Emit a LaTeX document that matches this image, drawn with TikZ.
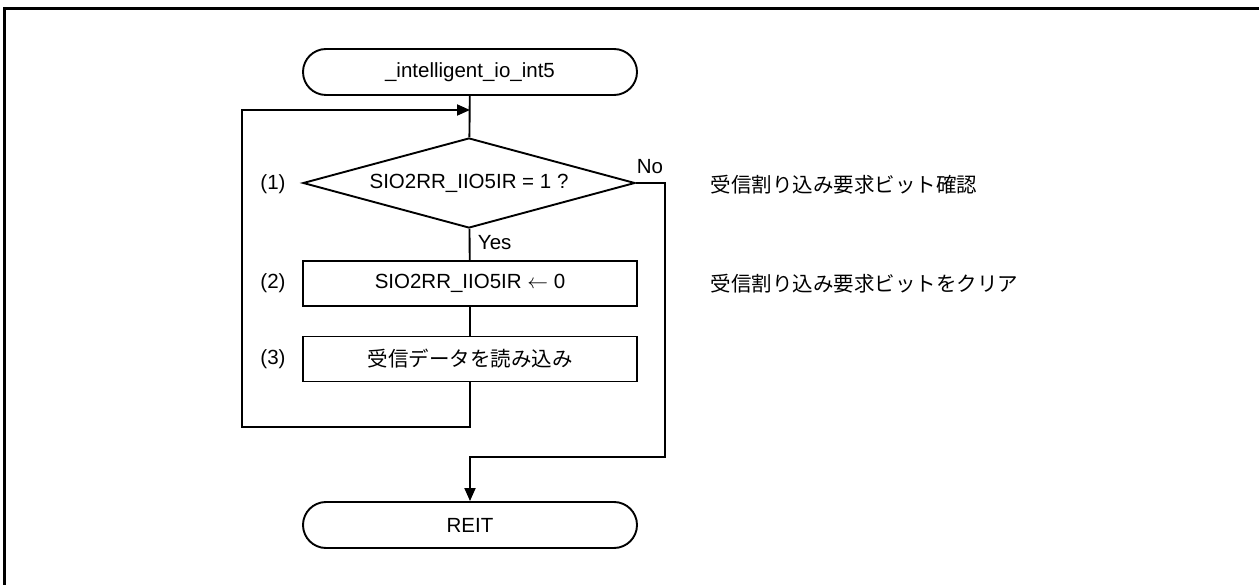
\documentclass[tikz,border=0pt]{standalone}
\usepackage{fontspec}
\setmainfont{Liberation Sans}
\newfontfamily\jp{Noto Sans CJK JP}
\usetikzlibrary{arrows.meta,shapes.geometric}
\begin{document}
\begin{tikzpicture}[x=1pt,y=-1pt,
  line width=1.9pt,
  every node/.style={font=\fontsize{20.5}{24}\selectfont, inner sep=0pt},
  term/.style={draw, rectangle, rounded corners=23pt, minimum width=334pt, minimum height=46pt},
  proc/.style={draw, rectangle, minimum width=334pt, minimum height=45pt},
  dec/.style={draw, diamond, aspect=3.7, minimum width=332pt, minimum height=90pt},
  note/.style={anchor=west, font=\jp\fontsize{20.5}{24}\selectfont},
  jptext/.style={font=\jp\fontsize{20.5}{24}\selectfont},
  arr/.style={-{Triangle[length=13pt,width=11pt]}},
  framel/.style={line width=3pt}
]
\useasboundingbox (0,0) rectangle (1259,585);
\draw[framel] (1259,9) -- (4,9) -- (4,585);

\node[term] (start) at (470,72) {\_intelligent\_io\_int5};
\node[dec] (d1) at (469,183) {SIO2RR\_IIO5IR = 1 ?};
\node[proc] (p2) at (470,283.5) {SIO2RR\_IIO5IR $\leftarrow$ 0};
\node[proc, jptext] (p3) at (470,359) {受信データを読み込み};
\node[term] (fin) at (470,525) {REIT};

\node (n1) at (273,184) {(1)};
\node (n2) at (273,283) {(2)};
\node (n3) at (273,359) {(3)};
\node[anchor=west] (yes) at (477,243) {Yes};
\node (no) at (650,167) {No};
\node[note] (c1) at (710,185) {受信割り込み要求ビット確認};
\node[note] (c2) at (710,284) {受信割り込み要求ビットをクリア};

\coordinate (join) at (470,110);
\coordinate (lb) at (242,427);
\coordinate (lt) at (242,110);
\coordinate (nr) at (665,457);

\draw (start) -- (d1);
\draw (d1) -- (p2);
\draw (p2) -- (p3);
\draw[arr] (p3.south) |- (lb) -- (lt) -- (join);
\draw[arr] (d1.east) -| (nr) -| (fin.north);
\end{tikzpicture}
\end{document}
